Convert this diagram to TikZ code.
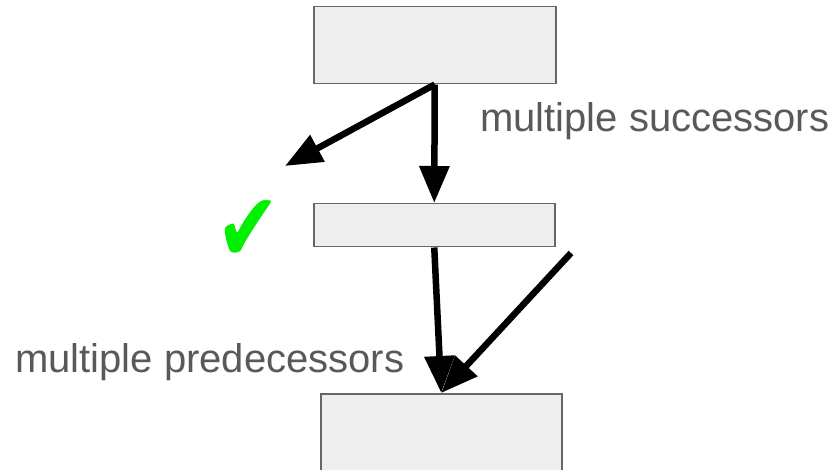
\documentclass[tikz,border=0pt]{standalone}
\usepackage{fontspec}
\setmainfont{Liberation Sans}
\newfontfamily\symfont{DejaVu Sans}
\usetikzlibrary{arrows.meta}
\definecolor{boxfill}{HTML}{EEEEEE}
\definecolor{boxline}{HTML}{666666}
\definecolor{labelgray}{HTML}{595959}
\definecolor{checkgreen}{HTML}{00F000}
\tikzset{
  block/.style={draw=boxline, fill=boxfill, line width=1.5pt, inner sep=0pt, anchor=north west},
  flow/.style={line width=6.5pt, -{Triangle[length=37pt, width=29pt]}},
  caption/.style={text=labelgray, font=\fontsize{40}{46}\selectfont, inner sep=0pt, anchor=base west}
}
\begin{document}
\begin{tikzpicture}[x=1pt, y=-1pt]
  \clip (0,0) rectangle (838,470);
  \fill[white] (0,0) rectangle (838,470);

  % blocks
  \node[block, minimum width=242pt, minimum height=77pt] (top) at (313,6) {};
  \node[block, minimum width=241pt, minimum height=43pt] (mid) at (313,203) {};
  \node[block, minimum width=241pt, minimum height=90pt] (bot) at (320,393) {};

  % free ends
  \coordinate (away) at (285,166);
  \coordinate (from) at (571,253);

  % connectors
  \draw[flow] (top.south) -- (away);
  \draw[flow] (top.south) -- (mid.north);
  \draw[flow] (mid.south) -- (bot.north);
  \draw[flow] (from) -- (bot.north);

  % labels
  \node[caption] (succ) at (480,132) {multiple successors};
  \node[caption] (pred) at (15,372) {multiple predecessors};
  \node[text=checkgreen, font=\symfont\fontsize{76}{76}\selectfont, inner sep=0pt,
        xscale=1, yscale=1.27] (ok) at (248,231) {✔};
\end{tikzpicture}
\end{document}
